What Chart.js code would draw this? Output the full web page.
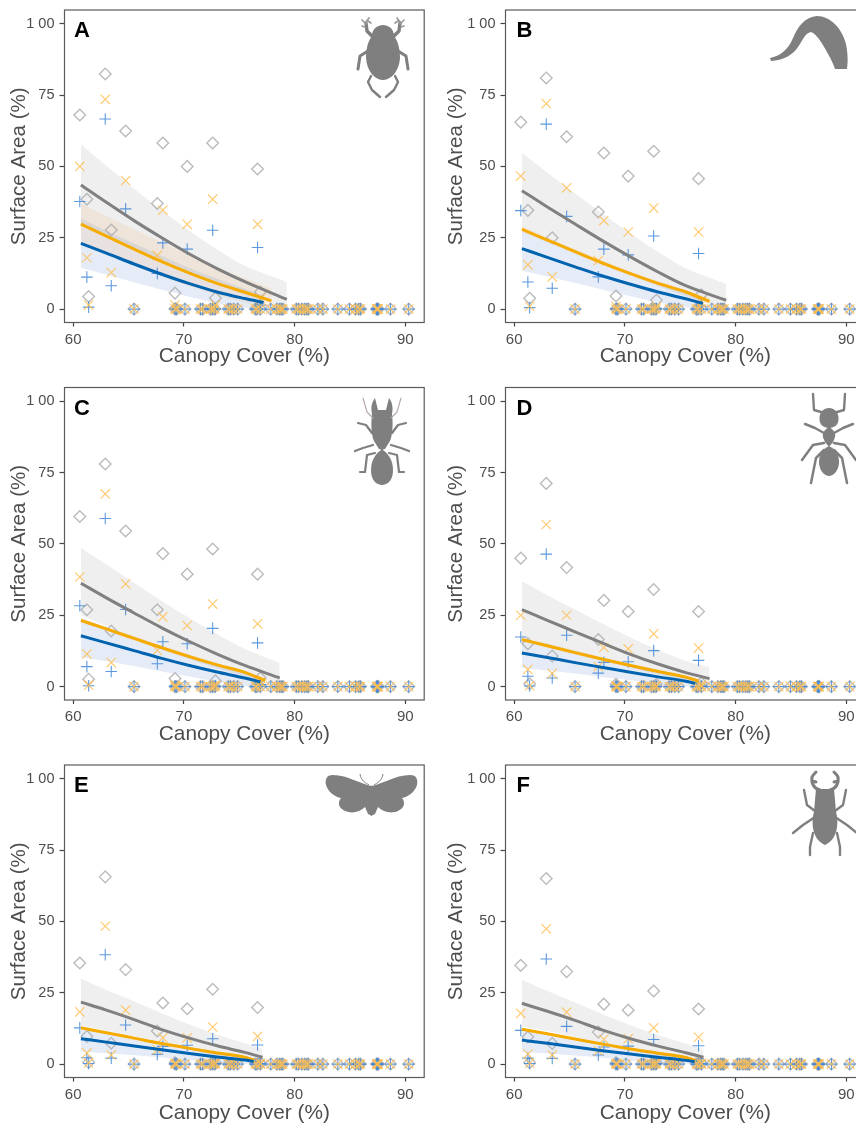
<!DOCTYPE html>
<html><head><meta charset="utf-8">
<script src="https://cdn.jsdelivr.net/npm/chart.js@4"></script>
<style>
html,body{margin:0;padding:0;background:#fff;width:856px;height:1125px;overflow:hidden}
canvas{position:absolute;display:block}
svg{position:absolute;left:0;top:0;pointer-events:none}
</style></head><body>
<script>
// ---------- shared categories / ticks ----------
const xTickValues = [60,70,80,90];
const yTickValues = [0,25,50,75,100];
const yTickLabels = ["0","25","50","75","1 00"];
const xAxisTitle = "Canopy Cover (%)";
const yAxisTitle = "Surface Area (%)";
const panelLetters = ["A","B","C","D","E","F"];
// canopy cover of sites with non-zero surface area
const sitesX = [60.6,61.24,61.4,62.9,63.44,64.74,67.6,68.1,69.2,70.3,72.6,72.85,76.65,76.9];
// canopy cover of sites with zero surface area
const zeroX = [65.5,69.35,69.2,70.1,71.5,71.7,72.4,72.6,72.8,74.0,74.2,74.5,74.85,76.45,76.6,76.9,77.85,78.4,78.65,78.8,78.95,80.15,80.35,80.65,80.9,81.1,81.25,82.1,82.55,83.9,84.95,85.5,85.8,85.95,87.4,87.45,87.5,87.55,88.65,90.3];
// x knots for the fitted curves (last knot differs per curve)
const knotsX = [60.7,63,65.5,68,70.5,73,75.5];

// ---------- points: high (grey), mid (orange), low (blue) ----------
const A_high=[68,38.5,4.4,82.4,27.7,62.4,37,58.2,5.6,50,58.2,3.9,49.1,6];
const A_mid =[50,18,1.4,73.5,12.8,45,18.8,34.7,1.4,29.7,38.5,1.4,29.7,3.7];
const A_low =[37.7,11.2,0.7,66.6,8.2,35.1,12.5,23.2,0.3,21,27.6,0.2,21.6,1.4];
const B_high=[65.5,34.6,3.8,81,25,60.4,34,54.7,4.6,46.6,55.3,3.2,45.7,5];
const B_mid =[46.6,15.5,1,72,11.3,42.5,17,31,1,27,35.4,0.8,27,2.5];
const B_low =[34.5,9.5,0.5,64.8,7.3,32.5,11.3,21,0.2,19,25.6,0.2,19.5,1];
const C_high=[59.6,26.9,2.6,78,19.5,54.5,26.9,46.6,2.8,39.4,48.2,2,39.4,3];
const C_mid =[38.4,11.4,0.5,67.5,8.4,36,12.7,24.4,0.5,21.4,28.9,0.5,22,1.5];
const C_low =[28.3,7,0.3,58.9,5.3,27,8,15.7,0.2,15,20.4,0.2,15.3,0.7];
const D_high=[45,15,1,71.2,10.7,41.7,16.5,30.2,0.8,26.3,34,0.8,26.3,1.2];
const D_mid =[25,6,0.3,56.8,4.6,25,7,13.7,0.2,13.2,18.5,0.2,13.5,0.5];
const D_low =[17.4,3.6,0.2,46.4,3,18,4.7,8.5,0.1,8.7,12.6,0.1,9.2,0.2];
const E_high=[35.4,9.7,0.6,65.6,7.3,33.1,11.6,21.4,0.5,19.4,26.2,0.5,19.8,0.5];
const E_mid =[18.3,3.9,0.4,48.3,3.2,18.9,5,9.2,0.3,9.2,13,0.3,9.7,0.3];
const E_low =[12.7,2.2,0.2,38.3,2.1,13.7,3.4,6.2,0.2,6.6,8.9,0.2,6.7,0.2];
const F_high=[34.6,9.5,0.5,65,7.2,32.4,11.2,21,0.5,18.9,25.6,0.5,19.3,0.5];
const F_mid =[17.8,3.5,0.3,47.4,3.2,18.2,4.7,8.7,0.3,8.9,12.7,0.3,9.4,0.3];
const F_low =[11.8,2.1,0.2,36.8,2,13.2,3.2,6,0.2,6.3,8.6,0.2,6.4,0.2];

// ---------- fitted curves: line, ribbon upper, ribbon lower, curve end ----------
const A_highFit=[43.5,37.4,31,25,19.3,14.2,9.6,3.4], A_highUp=[57.8,50.2,42.2,34.6,27.4,20.9,15.2,9.6], A_highLo=[30,25.8,21.2,16.8,12.7,8.8,5,0.4], A_highEnd=79.3;
const A_midFit=[29.8,25.6,21,16.6,12.6,9,5.9,2.9], A_midUp=[37,32.6,28,23.4,18.9,14.7,10.9,7.2], A_midLo=[23,19.3,15.3,11.5,8,4.9,2.2,0.2], A_midEnd=77.9;
const A_lowFit=[23,19.6,15.8,12.2,8.9,6,3.7,2.3], A_lowUp=[31.7,27.4,23,18.6,14.4,10.6,7.2,4.8], A_lowLo=[14.5,12,9.4,6.8,4.3,2,0.5,0], A_lowEnd=77.2;

const B_highFit=[41.5,35.8,29.8,23.9,18.3,13,8.2,3.1], B_highUp=[54.8,47.8,40.5,33.4,26.5,20,14.3,8.8], B_highLo=[28.8,24.7,20.3,16,12,8.2,4.5,0.3], B_highEnd=79.15;
const B_midFit=[28,24.2,20.1,16.1,12.4,9,6,2.7], B_midUp=[29,25.1,21,17,13.2,9.8,6.8,4], B_midLo=[27,23.3,19.2,15.2,11.6,8.2,5.1,1.5], B_midEnd=77.65;
const B_lowFit=[21.2,18.1,14.8,11.6,8.7,6,3.6,2], B_lowUp=[28,24.1,20,16,12.4,9,6,3.5], B_lowLo=[13.4,11.4,9.1,6.8,4.5,2.3,0.6,0], B_lowEnd=77.05;

const C_highFit=[36.2,31.1,25.8,20.6,15.8,11.4,7.4,3], C_highUp=[48.6,42.8,36.4,30,24,18.4,13.2,8.3], C_highLo=[25,21.2,17.2,13.3,9.7,6.4,3.3,0.2], C_highEnd=78.65;
const C_midFit=[23.2,20.2,16.9,13.6,10.5,7.6,5,2.1], C_midUp=[24,21,17.7,14.4,11.3,8.3,5.6,3], C_midLo=[22.4,19.4,16.1,12.8,9.7,6.8,4.2,1.2], C_midEnd=77.35;
const C_lowFit=[17.8,15.3,12.6,9.9,7.4,5.1,3,1.6], C_lowUp=[24,20.9,17.5,14.1,10.8,7.8,5.1,3.3], C_lowLo=[10.4,8.9,7.2,5.3,3.5,1.7,0.3,0], C_lowEnd=76.9;

const D_highFit=[27,23.2,19.2,15.2,11.3,7.9,4.9,2.8], D_highUp=[36.9,32,27,22,17.2,12.8,9,6.8], D_highLo=[17.5,15,12.3,9.5,6.7,4.2,1.8,0.2], D_highEnd=77.65;
const D_midFit=[16.5,14.3,11.9,9.6,7.4,5.3,3.3,1.9], D_midUp=[17.4,15.2,12.7,10.4,8.1,6,3.9,2.5], D_midLo=[15.6,13.4,11.1,8.8,6.7,4.6,2.7,1.2], D_midEnd=76.65;
const D_lowFit=[11.8,10.2,8.4,6.7,5,3.4,1.9,1.1], D_lowUp=[17,15,12.5,10,7.6,5.4,3.4,2.4], D_lowLo=[6.5,5.6,4.6,3.4,2.2,1,0.2,0], D_lowEnd=76.35;

const E_highFit=[21.7,18.9,15.6,12.1,9.1,6.4,4.1,2.4], E_highUp=[30,26,22,17.8,13.9,10.3,7.3,5.3], E_highLo=[13.5,11.8,9.7,7.4,5,3,1.3,0.2], E_highEnd=77.1;
const E_midFit=[12.7,11,9.1,7.2,5.5,3.9,2.4,1.4], E_midUp=[13.2,11.5,9.6,7.7,6,4.4,2.9,2], E_midLo=[12.2,10.5,8.6,6.7,5,3.4,1.9,0.8], E_midEnd=76.35;
const E_lowFit=[8.9,7.7,6.3,5,3.7,2.5,1.4,0.9], E_lowUp=[12.5,10.9,9.1,7.2,5.4,3.8,2.4,1.9], E_lowLo=[4.3,3.8,3.1,2.3,1.4,0.6,0.1,0], E_lowEnd=76.3;

const F_highFit=[21.3,18.5,15.3,11.9,8.9,6.3,4,2.4], F_highUp=[29.5,25.6,21.6,17.5,13.6,10.1,7.1,5.2], F_highLo=[13.2,11.6,9.5,7.2,4.9,2.9,1.2,0.2], F_highEnd=77.1;
const F_midFit=[12.2,10.6,8.8,7,5.3,3.8,2.3,1.3], F_midUp=[12.7,11.1,9.3,7.5,5.8,4.3,2.8,1.9], F_midLo=[11.7,10.1,8.3,6.5,4.8,3.3,1.8,0.7], F_midEnd=76.35;
const F_lowFit=[8.4,7.3,6,4.7,3.5,2.4,1.3,0.8], F_lowUp=[12,10.6,8.8,6.9,5.2,3.7,2.3,1.8], F_lowLo=[4.2,3.7,3,2.2,1.3,0.5,0.1,0], F_lowEnd=76.3;

const panelData = [
 {pts:[A_high,A_mid,A_low],fit:[A_highFit,A_midFit,A_lowFit],up:[A_highUp,A_midUp,A_lowUp],lo:[A_highLo,A_midLo,A_lowLo],end:[A_highEnd,A_midEnd,A_lowEnd]},
 {pts:[B_high,B_mid,B_low],fit:[B_highFit,B_midFit,B_lowFit],up:[B_highUp,B_midUp,B_lowUp],lo:[B_highLo,B_midLo,B_lowLo],end:[B_highEnd,B_midEnd,B_lowEnd]},
 {pts:[C_high,C_mid,C_low],fit:[C_highFit,C_midFit,C_lowFit],up:[C_highUp,C_midUp,C_lowUp],lo:[C_highLo,C_midLo,C_lowLo],end:[C_highEnd,C_midEnd,C_lowEnd]},
 {pts:[D_high,D_mid,D_low],fit:[D_highFit,D_midFit,D_lowFit],up:[D_highUp,D_midUp,D_lowUp],lo:[D_highLo,D_midLo,D_lowLo],end:[D_highEnd,D_midEnd,D_lowEnd]},
 {pts:[E_high,E_mid,E_low],fit:[E_highFit,E_midFit,E_lowFit],up:[E_highUp,E_midUp,E_lowUp],lo:[E_highLo,E_midLo,E_lowLo],end:[E_highEnd,E_midEnd,E_lowEnd]},
 {pts:[F_high,F_mid,F_low],fit:[F_highFit,F_midFit,F_lowFit],up:[F_highUp,F_midUp,F_lowUp],lo:[F_highLo,F_midLo,F_lowLo],end:[F_highEnd,F_midEnd,F_lowEnd]},
];

// ---------- styles ----------
const FONT = '"Liberation Sans", Arial, sans-serif';
const lineCol = ['#808080','#f5ab00','#0063b0'];
const ribbonCol = ['rgba(128,128,128,0.13)','rgba(245,160,60,0.12)','rgba(40,100,200,0.12)'];
const ptCol = ['rgba(175,175,175,0.85)','rgba(255,190,80,0.8)','rgba(65,135,215,0.85)'];
const ptStyle = ['rectRot','crossRot','cross'];
const ptRad = [5.8,6.6,5.8];
const ptW = [1.4,1.2,1.1];
const ptOrder = [20,18,19]; // grey drawn first, then blue, orange on top

const columns = [{left:0,w:432,frameLeft:64.5,right:0,titlePad:6.5},{left:430,w:443,frameLeft:75.5,right:0,titlePad:14}];
const rows = [{top:0,padTop:10,xPad:6},{top:377,padTop:10.5,xPad:5},{top:755,padTop:10,xPad:4.5}];

const framePlugin = {
 id:'frame',
 afterDatasetsDraw(c,a,o){
  const {left,top,right,bottom}=c.chartArea, g=c.ctx;
  g.save();
  g.strokeStyle='#5a5a5a'; g.lineWidth=1.2;
  g.strokeRect(left,top,right-left,bottom-top);
  g.fillStyle='#000'; g.font='bold 22px '+FONT; g.textBaseline='alphabetic'; g.textAlign='left';
  g.fillText(o.letter,left+o.dx,top+27);
  g.restore();
 }
};

function xy(xs,ys){return xs.map((x,i)=>({x,y:ys[i]}));}

panelData.forEach((d,i)=>{
 const col=columns[i%2], row=rows[Math.floor(i/2)];
 const cv=document.createElement('canvas');
 cv.width=col.w; cv.height=375;
 cv.style.left=col.left+'px'; cv.style.top=row.top+'px';
 cv.style.width=col.w+'px'; cv.style.height='375px';
 document.body.appendChild(cv);
 const ds=[];
 [0,1,2].forEach(s=>{
  const kx=knotsX.concat([d.end[s]]);
  ds.push({data:xy(kx,d.up[s]),borderWidth:0,pointRadius:0,fill:'+1',backgroundColor:ribbonCol[s],cubicInterpolationMode:'monotone',order:30});
  ds.push({data:xy(kx,d.lo[s]),borderWidth:0,pointRadius:0,fill:false,cubicInterpolationMode:'monotone',order:30});
 });
 [0,1,2].forEach(s=>{
  const px=sitesX.concat(zeroX);
  const py=d.pts[s].concat(zeroX.map(()=>0));
  ds.push({data:xy(px,py),showLine:false,pointStyle:ptStyle[s],pointRadius:ptRad[s],pointBorderColor:ptCol[s],pointBackgroundColor:'transparent',pointBorderWidth:ptW[s],order:ptOrder[s]});
 });
 [0,1,2].forEach(s=>{
  const kx=knotsX.concat([d.end[s]]);
  ds.push({data:xy(kx,d.fit[s]),borderColor:lineCol[s],borderWidth:3,pointRadius:0,fill:false,cubicInterpolationMode:'monotone',order:3-s});
 });
 new Chart(cv,{
  type:'line',
  data:{datasets:ds},
  plugins:[framePlugin],
  options:{
   responsive:false,animation:false,devicePixelRatio:1,
   layout:{padding:{top:row.padTop,right:col.right,left:0,bottom:0}},
   plugins:{legend:{display:false},tooltip:{enabled:false},frame:{letter:panelLetters[i],dx:i%2?11:9.5},
     filler:{drawTime:'beforeDatasetsDraw'}},
   scales:{
    x:{type:'linear',min:59.22,max:91.7,
     afterFit:s=>{s.height=375-row.padTop-312.5;s.paddingLeft=0;s.paddingRight=0;},
     afterBuildTicks:s=>{s.ticks=xTickValues.map(v=>({value:v}));},
     grid:{display:true,drawOnChartArea:false,drawTicks:true,tickLength:4,tickColor:'#444',tickWidth:1.2},
     border:{display:false},
     ticks:{autoSkip:false,maxRotation:0,padding:4,color:'#4d4d4d',font:{family:FONT,size:15},callback:v=>String(v)},
     title:{display:true,text:xAxisTitle,color:'#4d4d4d',font:{family:FONT,size:20.8},padding:{top:0,bottom:row.xPad}}
    },
    y:{type:'linear',min:-4.7,max:104.8,
     afterFit:s=>{s.width=col.frameLeft;s.paddingTop=0;s.paddingBottom=0;},
     afterBuildTicks:s=>{s.ticks=yTickValues.map(v=>({value:v}));},
     grid:{display:true,drawOnChartArea:false,drawTicks:true,tickLength:5,tickColor:'#444',tickWidth:1.2},
     border:{display:false},
     ticks:{autoSkip:false,padding:5,color:'#4d4d4d',font:{family:FONT,size:14.5},callback:v=>yTickLabels[yTickValues.indexOf(v)]},
     title:{display:true,text:yAxisTitle,color:'#4d4d4d',font:{family:FONT,size:20.6},padding:{top:col.titlePad,bottom:col.titlePad}}
    }
   }
  }
 });
});
</script>
<svg width="856" height="1125" viewBox="0 0 856 1125" fill="#7f7f7f" stroke="none">
 <defs>
  <g id="beetleA" stroke="#7f7f7f" fill="none" stroke-linejoin="round" stroke-linecap="round">
   <path d="M383.5 25C376 25 372 30 372 36C367 42 366 52 366 58C367 72 375 80 383.5 80Z" fill="#7f7f7f" stroke="none"/>
   <path d="M373 37L367 31L366 23" stroke-width="3.4"/>
   <path d="M366 24L362 20M366 22L369 18M365 27L362 26M368 21L371 23" stroke-width="1.7" stroke="#999"/>
   <path d="M368 51L360 56L358 69" stroke-width="3"/>
   <path d="M371 76L368 82L372 90L380 97" stroke-width="2.4"/>
  </g>
  <g id="beetleC" stroke="#7f7f7f" fill="none" stroke-linejoin="round" stroke-linecap="round">
   <path d="M382.5 410L378 410L375 398C371 403 371 409 372 414C371 422 371 434 374 441L379 449L382.5 450Z" fill="#7f7f7f" stroke="none"/>
   <path d="M382.5 449C376 453 371 460 371 470C371 480 376 485 382.5 485Z" fill="#7f7f7f" stroke="none"/>
   <path d="M372 433L366 425L358 423" stroke-width="2.2"/>
   <path d="M373 445L363 448L355 451" stroke-width="2.2"/>
   <path d="M375 453L367 455L365 472L360 472" stroke-width="2.2"/>
   <path d="M373 418L367 412L363 398" stroke-width="1.1" stroke="#b3a6a6"/>
  </g>
  <g id="ant" stroke="#7f7f7f" fill="none" stroke-linejoin="round" stroke-linecap="round">
   <path d="M829.5 408C822 408 819 414 819.5 420C820 426 825 428 829.5 428Z" fill="#7f7f7f" stroke="none"/>
   <path d="M829.5 427C825 429 822 433 823 437C824 441 826 444 829.5 447Z" fill="#7f7f7f" stroke="none"/>
   <path d="M829.5 446C822 449 819 455 819 462C819 470 824 476 829.5 476Z" fill="#7f7f7f" stroke="none"/>
   <path d="M821 412L814 410L813 394" stroke-width="2.4"/>
   <path d="M824 433L815 428L805 424" stroke-width="2.5"/>
   <path d="M824 443L813 445L802 460" stroke-width="2.5"/>
   <path d="M824 450L816 458L811 483" stroke-width="2.5"/>
  </g>
  <g id="moth">
   <path d="M372 786C362 785 348 775 333 775C326 775 325 780 326 785C328 792 335 797 341 798C337 803 339 808 345 811C352 814 360 812 365 807L368 814L372 816Z"/>
   <path d="M369 785C366 783 361 781 360 774" fill="none" stroke="#7f7f7f" stroke-width="1"/>
  </g>
  <g id="stag" stroke="#7f7f7f" fill="none" stroke-linejoin="round" stroke-linecap="round">
   <path d="M825.5 789L816 789L815 800L814 812C811 822 812 840 825.5 845Z" fill="#7f7f7f" stroke="none"/>
   <path d="M820 790C814 789 811 783 812 777C813 775 814 774 816 772M812 781L816 782" stroke-width="3"/>
   <path d="M815 811L807 805L804 790" stroke-width="2.4"/>
   <path d="M815 817L803 825L793 833" stroke-width="2.4"/>
   <path d="M813 833L810 847L810 855" stroke-width="2.4"/>
  </g>
 </defs>
 <use href="#beetleA"/><use href="#beetleA" transform="translate(766 0) scale(-1 1)"/>
 <path d="M770 58C780 56 788 50 793 38C798 26 805 17 817 16C830 16 842 28 846 44C848 54 848 62 847 69L835 69C832 60 826 50 821 42C818 37 814 33 811 32C805 33 803 40 798 47C792 56 783 60 771 61Z"/>
 <use href="#beetleC"/><use href="#beetleC" transform="translate(764 0) scale(-1 1)"/>
 <use href="#ant"/><use href="#ant" transform="translate(1658 0) scale(-1 1)"/>
 <use href="#moth"/><use href="#moth" transform="translate(743 0) scale(-1 1)"/>
 <use href="#stag"/><use href="#stag" transform="translate(1650 0) scale(-1 1)"/>
</svg>
</body></html>
